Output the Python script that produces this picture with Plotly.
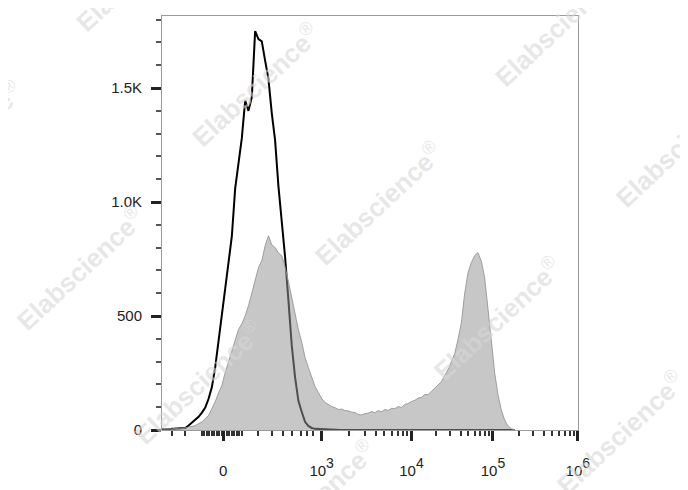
import numpy as np
import plotly.graph_objects as go

# ---------------- data (display channel units 0..1000, bin width 8) ----------------
BIN = 8
black_counts = [2, 3, 2, 4, 3, 5, 6, 9, 20, 33, 46, 58, 76, 98, 137, 188, 276, 392, 528, 632,
                745, 850, 1060, 1175, 1280, 1445, 1400, 1460, 1750, 1715, 1705, 1620, 1540, 1390,
                1270, 1070, 915, 760, 570, 372, 232, 128, 80, 36, 18, 9, 5, 4, 3, 2,
                1, 1, 0, 0, 0, 0, 0, 0, 0, 0, 0, 0, 0, 0, 0, 0, 0, 0, 0, 0,
                0, 0, 0, 0, 0, 0, 0, 0, 0, 0, 0, 0, 0, 0, 0, 0, 0, 0, 0, 0,
                0, 0, 0, 0, 0, 0, 0, 0, 0, 0, 0, 0, 0, 0, 0, 0, 0]
gray_counts = [9, 5, 7, 4, 8, 5, 6, 9, 11, 15,
               19, 28, 35, 50, 64, 94, 124, 163, 195, 252,
               298, 345, 392, 441, 466, 500, 545, 600, 655, 712,
               742, 808, 852, 812, 800, 776, 765, 716, 652, 578,
               515, 440, 385, 318, 274, 235, 191, 165, 138, 121,
               112, 103, 98, 90, 92, 85, 84, 78, 77, 68,
               66, 72, 74, 81, 76, 85, 80, 90, 86, 95,
               93, 103, 99, 112, 116, 125, 130, 140, 143, 156,
               155, 170, 182, 200, 212, 240, 265, 300, 335, 398,
               470, 600, 690, 735, 765, 778, 740, 668, 545, 395,
               252, 155, 88, 44, 18, 6, 1]

# axis labels
SUP = "<span style='font-size:20px'><sup>{}</sup></span>"
x_major_labels = ["0", "10" + SUP.format(3), "10" + SUP.format(4),
                  "10" + SUP.format(5), "10" + SUP.format(6)]
y_major_vals = [0, 500, 1000, 1500]
y_major_labels = ["0", "500", "1.0K", "1.5K"]

# ---------------- scale definition (display channels) ----------------
X_MAX = 1000
x_major_pos = [147, 384, 600, 796, 1000]
decade_starts = [384, 600, 796]
decade_widths = [216, 196, 204]
x_minor = [24, 55] + list(range(96, 197, 6)) + [231, 264, 291, 312, 334, 349, 363]
for s, w in zip(decade_starts, decade_widths):
    for m in range(2, 10):
        x_minor.append(s + w * np.log10(m))
y_minor = [v for v in range(100, 1900, 100) if v not in y_major_vals]

x_black = [i * BIN for i in range(len(black_counts))]
x_gray = [i * BIN for i in range(len(gray_counts))]

fig = go.Figure()
fig.add_trace(go.Scatter(x=x_black, y=black_counts, mode="lines",
                         line=dict(color="#000000", width=2), showlegend=False))
fig.add_trace(go.Scatter(x=x_gray, y=gray_counts, mode="lines", fill="tozeroy",
                         fillcolor="rgba(150,150,150,0.53)",
                         line=dict(color="rgba(150,150,150,0.9)", width=1), showlegend=False))

font = "Arial, Liberation Sans, sans-serif"
# page has an 8px body margin: figure is 680x482 placed at (8, 8)
fig.update_layout(
    width=680, height=482,
    margin=dict(l=154, r=110, t=8, b=60),
    paper_bgcolor="white", plot_bgcolor="white",
    font=dict(family=font, size=15, color="#222"),
    xaxis=dict(range=[0, X_MAX + 0.5], showgrid=False, zeroline=False,
               showline=True, linecolor="#9a9a9a", linewidth=1, mirror=True,
               tickmode="array", tickvals=x_major_pos, ticktext=x_major_labels,
               ticks="outside", ticklen=10, tickwidth=3, tickcolor="#222",
               ticklabelstandoff=17,
               minor=dict(tickmode="array", tickvals=x_minor, ticks="outside",
                          ticklen=5, tickwidth=1.5, tickcolor="#333", showgrid=False)),
    yaxis=dict(range=[0, 1816], showgrid=False, zeroline=False,
               showline=True, linecolor="#9a9a9a", linewidth=1, mirror=True,
               tickmode="array", tickvals=y_major_vals, ticktext=y_major_labels,
               ticks="outside", ticklen=10, tickwidth=3, tickcolor="#222",
               ticklabelstandoff=6,
               minor=dict(tickmode="array", tickvals=y_minor, ticks="outside",
                          ticklen=5, tickwidth=1.5, tickcolor="#555", showgrid=False)),
)

# watermarks (page pixel centers)
wm_centers = [(140, -30), (256, 85), (378, 203), (497, 318), (620, 432),
              (-42, 142), (80, 268), (198, 382), (312, 502),
              (559, 25), (679, 145)]
for cx, cy in wm_centers:
    fig.add_annotation(x=(cx - 162) / 416, y=(430 - cy) / 414, xref="paper", yref="paper",
                       xanchor="center", yanchor="middle",
                       text="<b>Elabscience</b><sup>®</sup>", showarrow=False, textangle=-43,
                       font=dict(family=font, size=26, color="rgba(215,215,215,0.6)"))

fig.write_html("out.html")
